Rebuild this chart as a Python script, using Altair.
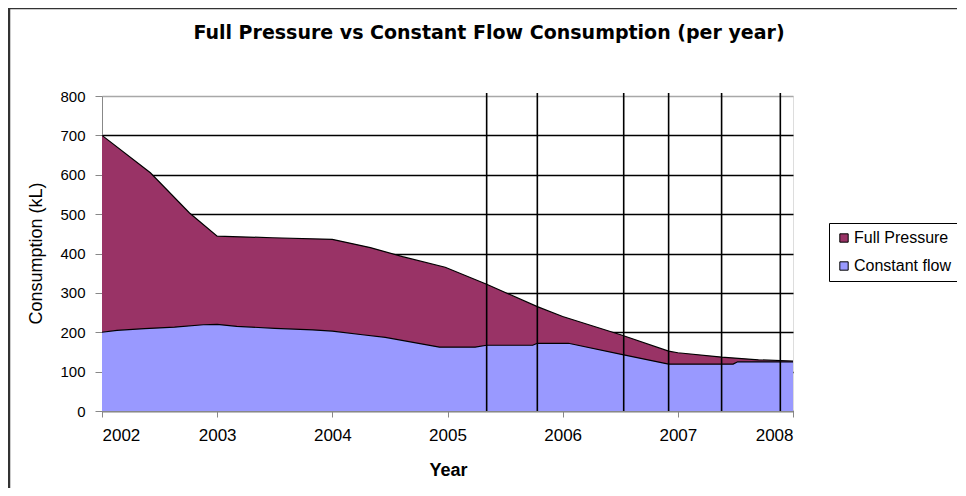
import altair as alt
import pandas as pd

# Full Pressure consumption (kL)
fp_years = [2002.0, 2002.42, 2002.76, 2003.0, 2003.48, 2004.0, 2004.33, 2004.61, 2004.98,
            2005.34, 2005.78, 2006.0, 2006.51, 2006.92, 2007.0, 2007.38, 2007.7, 2008.0]
fp_vals = [700, 605, 503, 444, 440, 436, 415, 392, 365,
           322, 265, 240, 193, 152, 148, 137, 130, 127]

# Constant flow consumption (kL)
cf_years = [2002.0, 2002.13, 2002.37, 2002.63, 2002.88, 2003.0, 2003.17, 2003.5, 2003.83,
            2004.0, 2004.28, 2004.46, 2004.93, 2005.24, 2005.34, 2005.74, 2005.78, 2006.05,
            2006.52, 2006.92, 2007.48, 2007.52, 2008.0]
cf_vals = [200, 205, 209, 213, 219, 220, 215, 210, 206,
           203, 193, 187, 162, 162, 167, 167, 172, 172,
           143, 119, 119, 125, 125]

# vertical marker lines (years)
marker_years = [2005.34, 2005.78, 2006.53, 2006.92, 2007.38, 2007.89]

series_names = ["Full Pressure", "Constant flow"]
series_colors = ["#993366", "#9999FF"]
year_ticks = [2002, 2003, 2004, 2005, 2006, 2007, 2008]
y_ticks = [0, 100, 200, 300, 400, 500, 600, 700, 800]
title_text = "Full Pressure vs Constant Flow Consumption (per year)"

df = pd.concat([
    pd.DataFrame({"Year": fp_years, "Consumption": fp_vals, "Series": series_names[0]}),
    pd.DataFrame({"Year": cf_years, "Consumption": cf_vals, "Series": series_names[1]}),
], ignore_index=True)
markers = pd.DataFrame({"Year": marker_years})

FONT = "Liberation Sans"

x_axis = alt.Axis(values=year_ticks, format="d", title="Year", grid=False,
                  labelFontSize=17, tickSize=6, labelPadding=10, labelOverlap=False,
                  titleFontSize=18, titleFontWeight="bold",
                  titleX=346, titleY=59, titleBaseline="middle")
y_axis = alt.Axis(values=y_ticks, title="Consumption (kL)", grid=True,
                  gridColor={"condition": {"test": "datum.value === 800", "value": "#a8a8a8"},
                             "value": "black"},
                  gridWidth=1.5, labelOverlap=False,
                  labelFontSize=15, tickSize=7, labelPadding=10,
                  titleFontSize=18, titleFontWeight="normal",
                  titleX=-66, titleY=157, titleAngle=-90,
                  titleAlign="center", titleBaseline="middle")
x_scale = alt.Scale(domain=[2002, 2008], nice=False, zero=False)
y_scale = alt.Scale(domain=[0, 800], nice=False)

color_enc = alt.Color("Series:N",
                      scale=alt.Scale(domain=series_names, range=series_colors),
                      legend=alt.Legend(orient="none", legendX=727, legendY=127, title=None,
                                        symbolType="square", symbolSize=70,
                                        symbolStrokeColor="black", symbolStrokeWidth=1,
                                        symbolOpacity=1, labelOffset=2,
                                        labelFontSize=16, labelFont=FONT, labelColor="black",
                                        labelLimit=300,
                                        padding=7, rowPadding=12,
                                        strokeColor="black", fillColor="white"))

base = alt.Chart(df)
x_enc = alt.X("Year:Q", scale=x_scale, axis=x_axis)
y_enc = alt.Y("Consumption:Q", stack=None, scale=y_scale, axis=y_axis)

fp_area = base.transform_filter(alt.datum.Series == series_names[0]).mark_area(opacity=1).encode(
    x=x_enc, y=y_enc, color=color_enc)
fp_line = base.transform_filter(alt.datum.Series == series_names[0]).mark_line(
    color="black", strokeWidth=1.2).encode(x=x_enc, y=y_enc)
cf_area = base.transform_filter(alt.datum.Series == series_names[1]).mark_area(opacity=1).encode(
    x=x_enc, y=y_enc, color=color_enc)
cf_line = base.transform_filter(alt.datum.Series == series_names[1]).mark_line(
    color="black", strokeWidth=1.2).encode(x=x_enc, y=y_enc)

vlines = alt.Chart(markers).mark_rule(color="black", strokeWidth=1.6).encode(
    x=x_enc, y=alt.value(-3), y2=alt.value(315))

frame_df = pd.DataFrame({"a": [0]})
frame_top = alt.Chart(frame_df).mark_rule(color="#333333", strokeWidth=2.5).encode(
    x=alt.value(-94), x2=alt.value(870), y=alt.value(-88))
frame_left = alt.Chart(frame_df).mark_rule(color="#333333", strokeWidth=2.5).encode(
    x=alt.value(-93), y=alt.value(-88), y2=alt.value(400))
title_mark = alt.Chart(frame_df).mark_text(
    text=title_text, font="DejaVu Sans", fontSize=19, fontWeight="bold", color="black",
    align="center", baseline="middle").encode(x=alt.value(387), y=alt.value(-63))

chart = alt.layer(fp_area, fp_line, cf_area, cf_line, vlines,
                  frame_top, frame_left, title_mark).properties(
    width=691, height=315,
    autosize=alt.AutoSizeParams(type="none"),
    padding={"left": 94, "top": 88, "right": 164, "bottom": 77},
).configure_view(
    fill="#C0C0C0", stroke="#a8a8a8", strokeWidth=1.5
).configure_axis(
    labelFont=FONT, titleFont=FONT, labelColor="black", titleColor="black",
    domainColor="black", tickColor="black", domainWidth=1.2, tickWidth=1.2
).configure(background="white")

chart.save("out.html", embed_options={"renderer": "svg", "actions": False})
